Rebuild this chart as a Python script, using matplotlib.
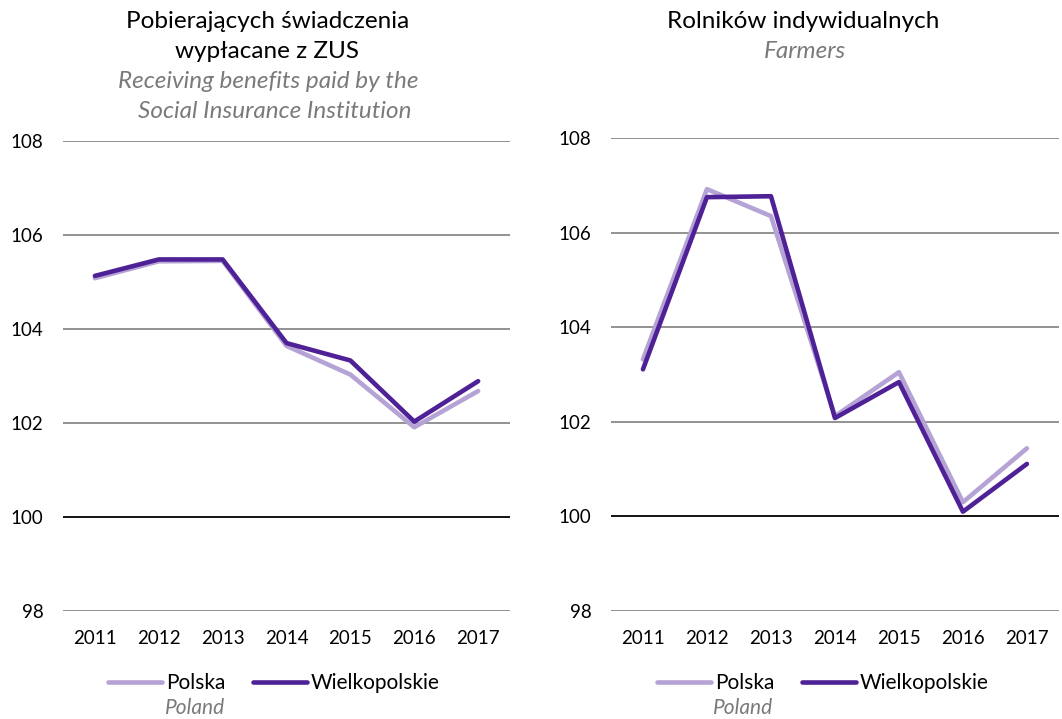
import matplotlib
matplotlib.use("Agg")
import matplotlib.pyplot as plt
from matplotlib.lines import Line2D

plt.rcParams["font.family"] = ["Lato", "DejaVu Sans"]

years = ["2011", "2012", "2013", "2014", "2015", "2016", "2017"]

zus_polska = [105.08, 105.44, 105.45, 103.64, 103.03, 101.91, 102.68]
zus_wlkp = [105.13, 105.48, 105.48, 103.70, 103.33, 102.03, 102.89]

farm_polska = [103.32, 106.92, 106.35, 102.12, 103.05, 100.30, 101.44]
farm_wlkp = [103.11, 106.75, 106.77, 102.08, 102.84, 100.10, 101.11]

yticks = [98, 100, 102, 104, 106, 108]

C_PL = "#b6a3d6"
C_WL = "#4f2196"
GRID = "#7f7f7f"
SUB = "#7a7a7a"

fig = plt.figure(figsize=(10.62, 7.19), dpi=100)
ax1 = fig.add_axes([0.0593, 0.1502, 0.421, 0.6537])
ax2 = fig.add_axes([0.5753, 0.1502, 0.4218, 0.6578])


def draw(ax, pl, wl, leg_x, leg_y):
    x = range(len(years))
    for y in yticks:
        ax.axhline(y, color="black" if y == 100 else GRID,
                   lw=1.3 if y == 100 else 1.2, zorder=1)
    ax.plot(x, pl, color=C_PL, lw=3.3, solid_capstyle="round", zorder=2)
    ax.plot(x, wl, color=C_WL, lw=3.3, solid_capstyle="round", zorder=3)
    ax.set_xlim(-0.5, len(years) - 0.5)
    ax.set_ylim(98, 108)
    ax.set_yticks(yticks)
    ax.set_xticks(list(x))
    ax.set_xticklabels(years)
    ax.tick_params(axis="both", length=0, labelsize=13.5, colors="black")
    ax.tick_params(axis="y", pad=14)
    ax.tick_params(axis="x", pad=14)
    for s in ax.spines.values():
        s.set_visible(False)
    handles = [Line2D([], [], color=C_PL, lw=3.3, solid_capstyle="round"),
               Line2D([], [], color=C_WL, lw=3.3, solid_capstyle="round")]
    ax.legend(handles, ["Polska", "Wielkopolskie"], ncol=2, frameon=False,
              loc="center left", bbox_to_anchor=(leg_x, leg_y),
              fontsize=15, handlelength=2.6, handletextpad=0.2,
              columnspacing=1.3, borderpad=0, borderaxespad=0)


draw(ax1, zus_polska, zus_wlkp, 0.1007, -0.153)
draw(ax2, farm_polska, farm_wlkp, 0.1027, -0.152)

# titles
fig.text(268 / 1062, 1 - 22 / 719, "Pobierających świadczenia", ha="center",
         va="center", fontsize=17.5)
fig.text(267 / 1062, 1 - 52 / 719, "wypłacane z ZUS", ha="center",
         va="center", fontsize=17.5)
fig.text(268 / 1062, 1 - 82 / 719, "Receiving benefits paid by the", ha="center",
         va="center", fontsize=17.5, style="italic", color=SUB)
fig.text(275 / 1062, 1 - 111 / 719, "Social Insurance Institution", ha="center",
         va="center", fontsize=17.5, style="italic", color=SUB)

fig.text(803 / 1062, 1 - 22 / 719, "Rolników indywidualnych", ha="center",
         va="center", fontsize=17.5)
fig.text(805 / 1062, 1 - 52 / 719, "Farmers", ha="center",
         va="center", fontsize=17.5, style="italic", color=SUB)

# legend sublabels
fig.text(195 / 1062, 1 - 708 / 719, "Poland", ha="center", va="center",
         fontsize=15, style="italic", color=SUB)
fig.text(743 / 1062, 1 - 708 / 719, "Poland", ha="center", va="center",
         fontsize=15, style="italic", color=SUB)

fig.savefig("out.png", dpi=100)
